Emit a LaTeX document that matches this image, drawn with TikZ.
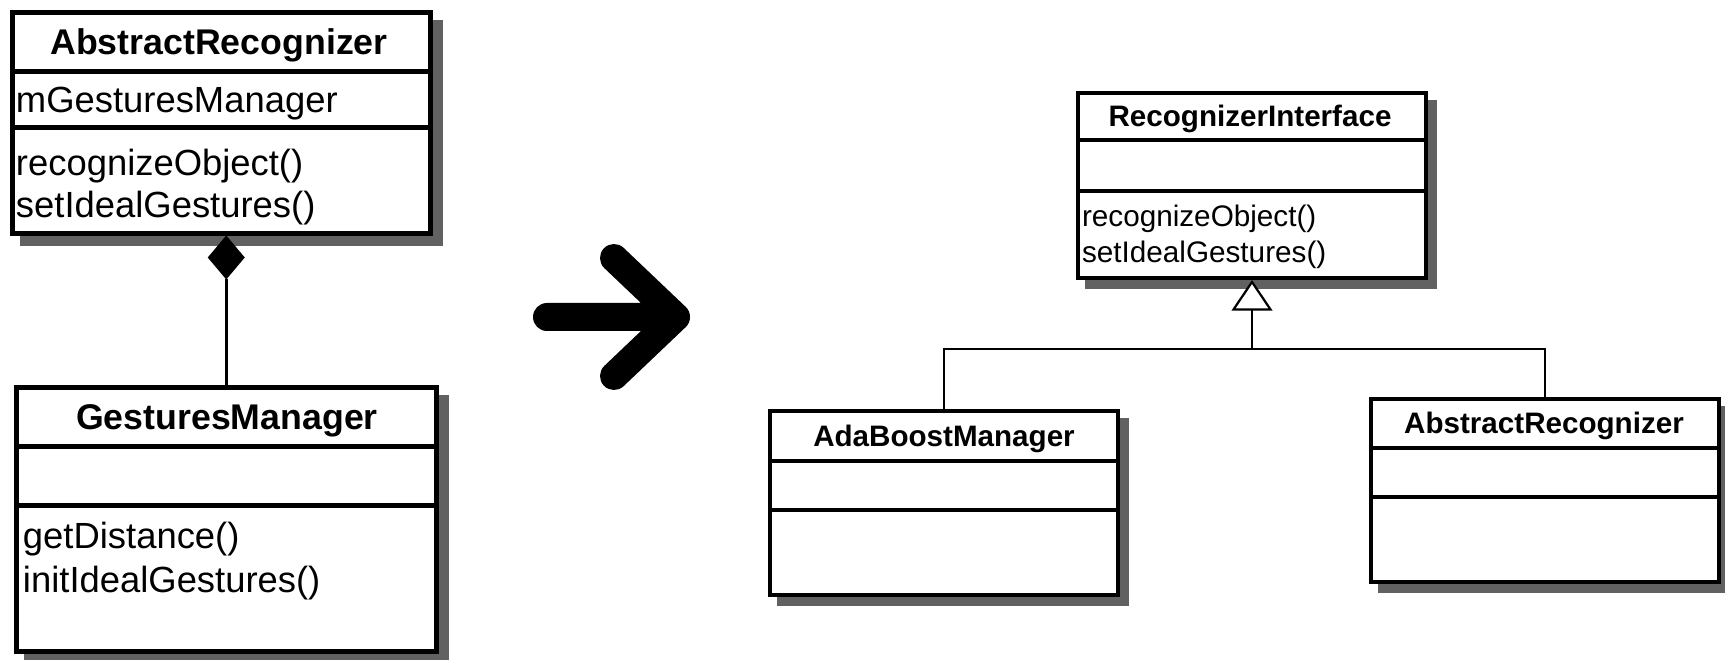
\documentclass[tikz,border=0pt]{standalone}
\usepackage{fontspec}
\setmainfont{Liberation Sans}
\usetikzlibrary{calc}
\pgfdeclarelayer{bg}
\pgfsetlayers{bg,main}
\newcommand\lreg{\fontsize{36.4}{43}\selectfont}
\newcommand\lbold{\fontsize{35.7}{43}\selectfont\bfseries}
\newcommand\rreg{\fontsize{29.7}{36}\selectfont}
\newcommand\rbold{\fontsize{29.6}{36}\selectfont\bfseries}
\begin{document}
\begin{tikzpicture}[x=1pt,y=-1pt,
  clsL/.style={draw, line width=5pt, fill=white, inner sep=0pt, outer sep=0pt, anchor=north west},
  clsR/.style={clsL, line width=4pt},
  divL/.style={line width=5pt},
  divR/.style={line width=4pt},
  shad/.style={fill=black!62},
  txt/.style={inner sep=0pt, outer sep=0pt},
  conn/.style={line width=2.6pt},
  connR/.style={line width=2.2pt},
  bigarrow/.style={line width=28pt, line cap=round, line join=round}]
\useasboundingbox (0,0) rectangle (1725,660);
\begin{pgfonlayer}{bg}
\fill[white] (0,0) rectangle (1725,660);
\end{pgfonlayer}

% ---------- left diagram ----------
\node[clsL, minimum width=417.5pt, minimum height=221pt] (ar1) at (12.5,12.5) {};
\draw[divL] ($(ar1.north west)+(0,59.5)$) -- ($(ar1.north east)+(0,59.5)$);
\draw[divL] ($(ar1.north west)+(0,115.5)$) -- ($(ar1.north east)+(0,115.5)$);
\node[txt, anchor=base] (ar1t) at (219,55) {\lbold AbstractRecognizer};
\node[txt, anchor=base west] (ar1a) at (16,113) {\lreg mGesturesManager};
\node[txt, anchor=base west] (ar1m1) at (16,176) {\lreg recognizeObject()};
\node[txt, anchor=base west] (ar1m2) at (16,218) {\lreg setIdealGestures()};

\node[clsL, minimum width=419.5pt, minimum height=264pt] (gm) at (16.5,387.5) {};
\draw[divL] ($(gm.north west)+(0,58.5)$) -- ($(gm.north east)+(0,58.5)$);
\draw[divL] ($(gm.north west)+(0,118)$) -- ($(gm.north east)+(0,118)$);
\node[txt, anchor=base] (gmt) at (227,429) {\lbold GesturesManager};
\node[txt, anchor=base west] (gmm1) at (23,548) {\lreg getDistance()};
\node[txt, anchor=base west] (gmm2) at (23,592) {\lreg initIdealGestures()};

\coordinate (dtop) at ($(ar1.south -| gm.north)+(0,2)$);
\fill (dtop) -- ++(-18.5,22) -- ++(18.5,22) -- ++(18.5,-22) -- cycle;
\coordinate (dbot) at ($(dtop)+(0,44)$);
\draw[conn] (dbot) -- (gm.north);

% ---------- big arrow ----------
\draw[bigarrow] (547,317) -- (676,317) (614,258) -- (676,317) -- (614,376);

% ---------- right diagram ----------
\node[clsR, minimum width=348pt, minimum height=185.5pt] (ri) at (1078,93) {};
\draw[divR] ($(ri.north west)+(0,47.5)$) -- ($(ri.north east)+(0,47.5)$);
\draw[divR] ($(ri.north west)+(0,98)$) -- ($(ri.north east)+(0,98)$);
\node[txt, anchor=base] (rit) at (1250,127) {\rbold RecognizerInterface};
\node[txt, anchor=base west] (rim1) at (1082,227) {\rreg recognizeObject()};
\node[txt, anchor=base west] (rim2) at (1082,263) {\rreg setIdealGestures()};

\node[clsR, minimum width=348pt, minimum height=184.5pt] (ada) at (770,410.5) {};
\draw[divR] ($(ada.north west)+(0,50)$) -- ($(ada.north east)+(0,50)$);
\draw[divR] ($(ada.north west)+(0,99)$) -- ($(ada.north east)+(0,99)$);
\node[txt, anchor=base] (adat) at (944,446) {\rbold AdaBoostManager};

\node[clsR, minimum width=347.5pt, minimum height=182.5pt] (ar2) at (1371,399) {};
\draw[divR] ($(ar2.north west)+(0,48.5)$) -- ($(ar2.north east)+(0,48.5)$);
\draw[divR] ($(ar2.north west)+(0,98)$) -- ($(ar2.north east)+(0,98)$);
\node[txt, anchor=base] (ar2t) at (1544,433) {\rbold AbstractRecognizer};

\coordinate (bus) at ($(ri.south)+(0,70.5)$);
\coordinate (tb) at ($(ri.south)+(0,31)$);
\draw[connR] (ada.north) |- (bus) -| (ar2.north);
\draw[connR] (bus) -- (tb);
\draw[connR, fill=white] ($(ri.south)+(0,3.5)$) -- ++(-18.5,27.5) -- ++(37,0) -- cycle;

% ---------- shadows ----------
\begin{pgfonlayer}{bg}
\foreach \n/\o/\h in {ar1/10/2.5, gm/10/2.5, ri/9/2, ada/9/2, ar2/9/2}{
  \fill[shad] ($(\n.north west)+(\o-\h,\o-\h)$) rectangle ($(\n.south east)+(\o+\h,\o+\h)$);
}
\end{pgfonlayer}
\end{tikzpicture}
\end{document}
